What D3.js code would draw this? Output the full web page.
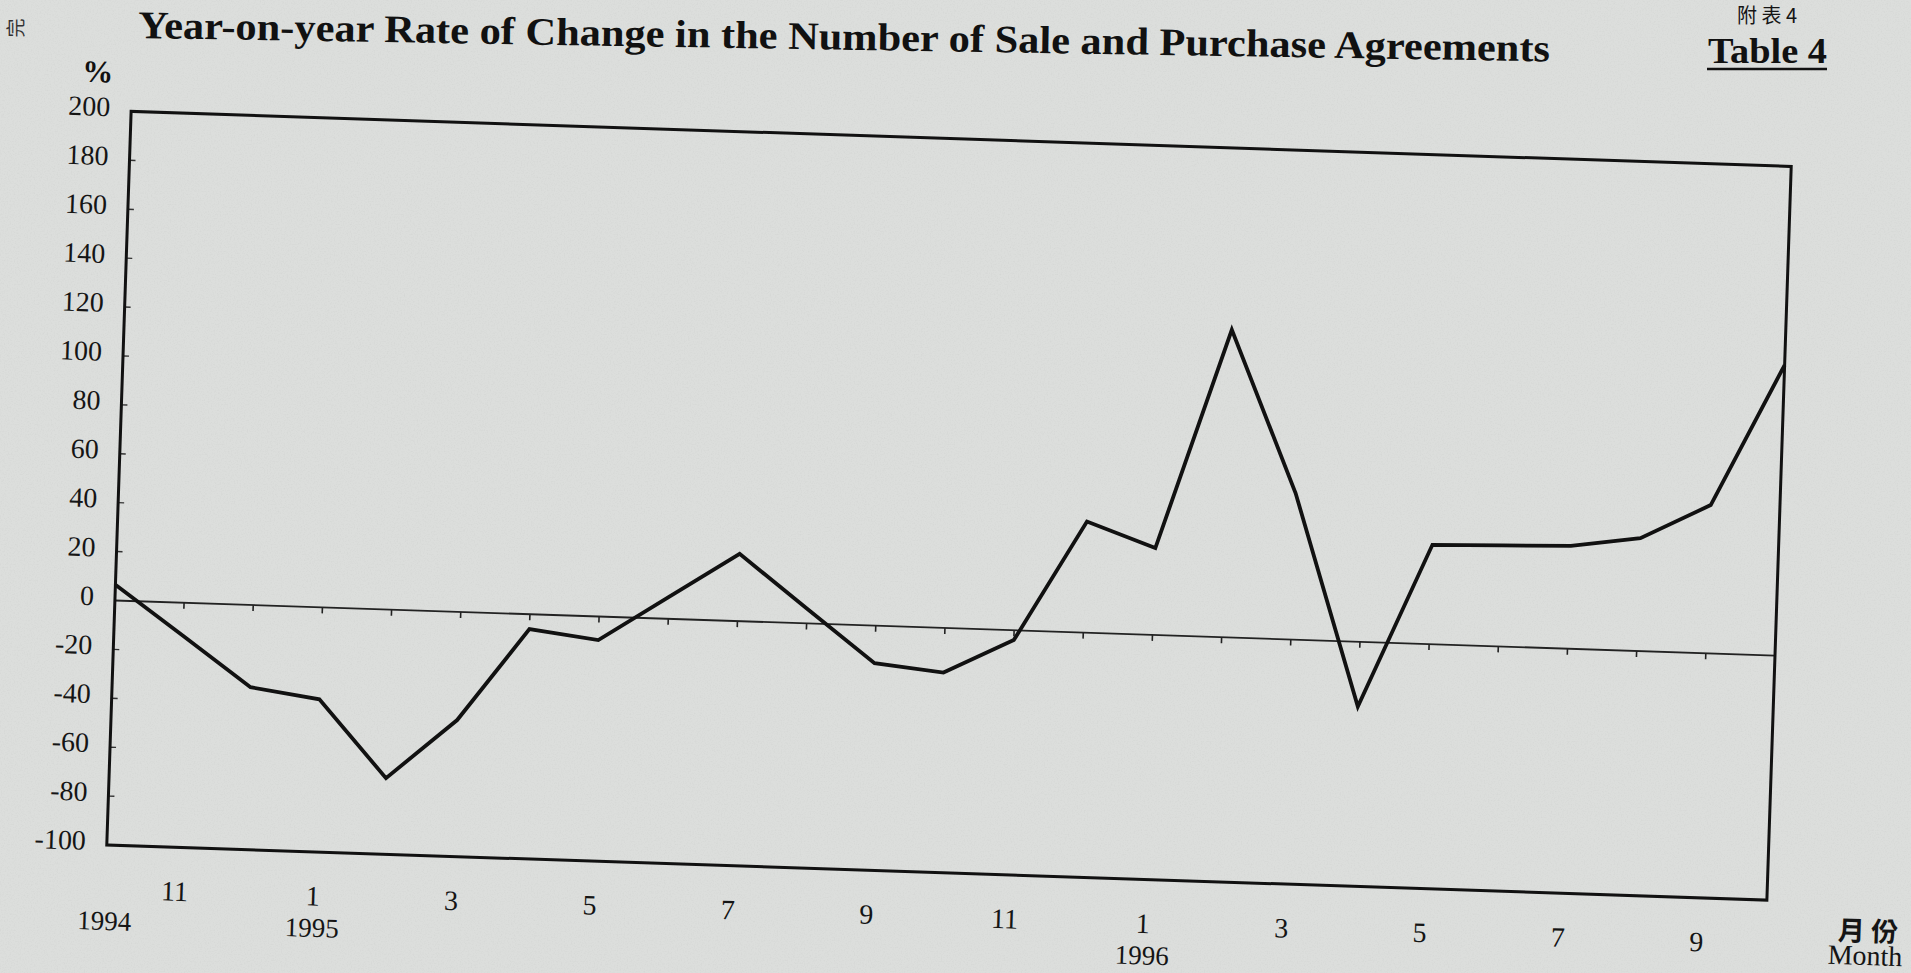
<!DOCTYPE html>
<html><head><meta charset="utf-8">
<script src="https://cdn.jsdelivr.net/npm/d3@7/dist/d3.min.js"></script>
<style>html,body{margin:0;padding:0;background:#dadcda;overflow:hidden}</style>
</head><body>
<svg id="c" width="1911" height="973"></svg>
<script>
// ---- data ----
const monthLabels = ["10","11","12","1","2","3","4","5","6","7","8","9","10","11","12","1","2","3","4","5","6","7","8","9","10"];
const labelledIdx = [1,3,5,7,9,11,13,15,17,19,21,23];
const yearLabels = ["1994","1995","1996"];
const yearIdx = [0,3,15];
const changeRate = [6.4,-13.5,-33.6,-37.6,-68.9,-44.2,-6.1,-9.6,9.0,27.5,6.0,-15.3,-18.2,-4.0,45.4,35.5,125.7,59.8,-26.5,40.6,41.3,42.0,46.1,60.6,118.8];
const yTicks = [200,180,160,140,120,100,80,60,40,20,0,-20,-40,-60,-80,-100];
const titleText = "Year-on-year Rate of Change in the Number of Sale and Purchase Agreements";

const serif = "'Liberation Serif','Times New Roman',serif";
const cjk = "'Noto Sans CJK TC','Noto Sans CJK SC',sans-serif";

const svg = d3.select("#c");
const W = 1911, H = 973;

// paper noise
const defs = svg.append("defs");
const f = defs.append("filter").attr("id","noise").attr("x",0).attr("y",0).attr("width","100%").attr("height","100%");
f.append("feTurbulence").attr("type","fractalNoise").attr("baseFrequency","0.7").attr("numOctaves",2).attr("seed",4);
f.append("feColorMatrix").attr("type","matrix").attr("values","0 0 0 0 0.45  0 0 0 0 0.46  0 0 0 0 0.45  1 0 0 0 -0.45");
svg.append("rect").attr("width",W).attr("height",H).attr("fill","#dcdedc");
svg.append("rect").attr("width",W).attr("height",H).attr("filter","url(#noise)").attr("opacity",0.35);

// frame geometry (unrotated)
const L = 118.5, R = 1779.5, T = 138.75, B = 872.75;
const x = d3.scaleLinear().domain([0, changeRate.length-1]).range([L, R]);
const y = d3.scaleLinear().domain([-100, 200]).range([B, T]);

const g = svg.append("g").attr("transform","rotate(1.9,949,505.75)");

// zero line with month ticks
g.append("line").attr("x1",L).attr("x2",R).attr("y1",y(0)).attr("y2",y(0))
  .attr("stroke","#222").attr("stroke-width",1.8);
g.selectAll(".xt").data(d3.range(1, changeRate.length-1)).join("line")
  .attr("x1",d=>x(d)).attr("x2",d=>x(d)).attr("y1",y(0)).attr("y2",y(0)+6)
  .attr("stroke","#222").attr("stroke-width",1.6);

// y ticks inside
g.selectAll(".yt").data(yTicks.filter(v=>v!==200 && v!==-100 && v!==0)).join("line")
  .attr("x1",L).attr("x2",L+6).attr("y1",d=>y(d)).attr("y2",d=>y(d))
  .attr("stroke","#333").attr("stroke-width",1.4);

// frame
g.append("rect").attr("x",L).attr("y",T).attr("width",R-L).attr("height",B-T)
  .attr("fill","none").attr("stroke","#111").attr("stroke-width",3);

// data line
g.append("path").datum(changeRate)
  .attr("d", d3.line().x((d,i)=>x(i)).y(d=>y(d)))
  .attr("fill","none").attr("stroke","#111").attr("stroke-width",3.8).attr("stroke-linejoin","miter");

// y labels
g.selectAll(".yl").data(yTicks).join("text")
  .attr("x", L-21).attr("y", d=>y(d)-4).attr("text-anchor","end").attr("dominant-baseline","central")
  .attr("font-family",serif).attr("font-size",28).attr("fill","#151515").text(d=>d);

// % label
g.append("text").attr("x",84).attr("y",100).attr("text-anchor","middle").attr("dominant-baseline","central")
  .attr("font-family",serif).attr("font-weight","bold").attr("font-size",31).attr("fill","#111").text("%");

// month labels
g.selectAll(".ml").data(labelledIdx).join("text")
  .attr("x", d=>x(d)).attr("y", B+44).attr("text-anchor","middle").attr("dominant-baseline","central")
  .attr("font-family",serif).attr("font-size",28).attr("fill","#151515").text(d=>monthLabels[d]);

// year labels
g.selectAll(".yr").data(yearLabels).join("text")
  .attr("x", (d,i)=>x(yearIdx[i])).attr("y", B+76).attr("text-anchor","middle").attr("dominant-baseline","central")
  .attr("font-family",serif).attr("font-size",27).attr("fill","#151515").text(d=>d);

// axis name
g.append("text").attr("x",R+102).attr("y",B+26).attr("text-anchor","middle").attr("dominant-baseline","central")
  .attr("font-family",cjk).attr("font-weight","bold").attr("font-size",27).attr("fill","#151515").text("月 份");
g.append("text").attr("x",R+100).attr("y",B+52).attr("text-anchor","middle").attr("dominant-baseline","central")
  .attr("font-family",serif).attr("font-size",28).attr("fill","#151515").text("Month");

// title
svg.append("text").attr("x",138).attr("y",38).attr("transform","rotate(0.95,138,38)")
  .attr("font-family",serif).attr("font-weight","bold").attr("font-size",39).attr("fill","#111")
  .attr("textLength",1412).attr("lengthAdjust","spacingAndGlyphs").text(titleText);

// table number
svg.append("text").attr("x",1767).attr("y",23).attr("text-anchor","middle")
  .attr("font-family",cjk).attr("font-size",20).attr("fill","#151515").text("附 表 4");
svg.append("text").attr("x",1708).attr("y",63).attr("font-family",serif).attr("font-weight","bold")
  .attr("font-size",36).attr("fill","#111").attr("textLength",119).attr("lengthAdjust","spacingAndGlyphs").text("Table 4");
svg.append("line").attr("x1",1707).attr("x2",1827).attr("y1",69).attr("y2",69).attr("stroke","#111").attr("stroke-width",2.5);

// margin fragment
svg.append("text").attr("transform","translate(14,28) rotate(-90)").attr("text-anchor","middle").attr("dominant-baseline","central")
  .attr("font-family",cjk).attr("font-size",19).attr("fill","#333").text("完");
</script>
</body></html>
